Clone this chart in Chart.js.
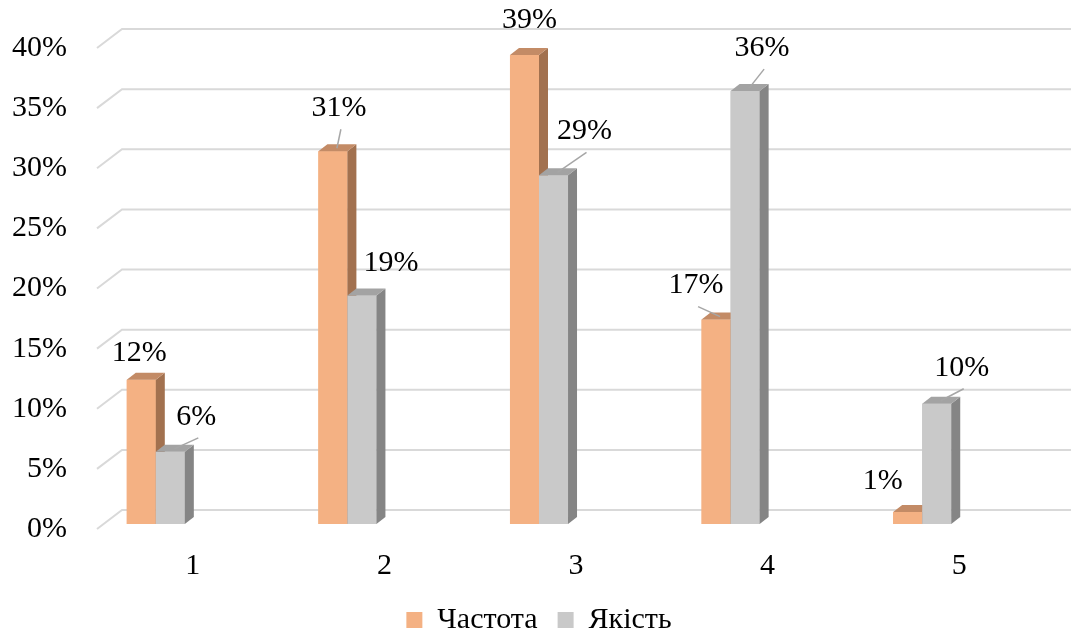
<!DOCTYPE html>
<html>
<head>
<meta charset="utf-8">
<script src="https://cdn.jsdelivr.net/npm/chart.js@4/dist/chart.umd.min.js"></script>
<style>
  html, body { margin: 0; padding: 0; background: #fff; }
  #wrap { width: 1071px; height: 632px; }
</style>
</head>
<body>
<div id="wrap"><canvas id="qualityChart" width="1071" height="632"></canvas></div>
<script>
// chart data
const categories = ['1', '2', '3', '4', '5'];
const frequency = [12, 31, 39, 17, 1];   // Частота
const quality = [6, 19, 29, 36, 10];     // Якість
const yTicks = [0, 5, 10, 15, 20, 25, 30, 35, 40];

// label placement relative to top of each bar (layout only)
const freqLabelShift = [[-2, -27], [6, -43], [5, -35], [-20, -34], [-25, -31]];
const qualLabelShift = [[26, -35], [29, -32], [31, -44], [17, -43], [25, -36]];
const freqLeader = [false, true, false, true, false];
const qualLeader = [true, false, true, true, true];

const FONT = "'Liberation Serif', 'Times New Roman', serif";
const DEPTH_X = 9, DEPTH_Y = 7;

const faceColors = [
    { front: '#F4B183', side: '#A2714F', top: '#C38B66' },
    { front: '#C9C9C9', side: '#858585', top: '#A3A3A3' }
];

// back wall grid lines + y labels, drawn like an Excel 3D column chart
const wallPlugin = {
    id: 'wall',
    beforeDatasetsDraw(chart) {
        const ctx = chart.ctx;
        const y = chart.scales.y;
        const x0 = 97, skew = 25;
        ctx.save();
        ctx.strokeStyle = '#D9D9D9';
        ctx.lineWidth = 2;
        yTicks.forEach(function(v) {
            const py = y.getPixelForValue(v);
            ctx.beginPath();
            ctx.moveTo(x0, py + 5);
            ctx.lineTo(x0 + skew, py - 14);
            ctx.lineTo(chart.width, py - 14);
            ctx.stroke();
        });
        ctx.fillStyle = '#000';
        ctx.font = '30px ' + FONT;
        ctx.textAlign = 'right';
        ctx.textBaseline = 'middle';
        yTicks.forEach(function(v) {
            ctx.fillText(v + '%', 67, y.getPixelForValue(v) + 5);
        });
        ctx.restore();
    }
};

// front, side and top faces for every bar (left series first), then value labels
const boxPlugin = {
    id: 'box3d',
    afterDatasetsDraw(chart) {
        const ctx = chart.ctx;
        ctx.save();
        [0, 1].forEach(function(di) {
            const colors = faceColors[di];
            chart.getDatasetMeta(di).data.forEach(function(bar) {
                const p = bar.getProps(['x', 'y', 'base', 'width'], true);
                const l = p.x - p.width / 2, r = p.x + p.width / 2;
                ctx.fillStyle = colors.front;
                ctx.fillRect(l, p.y, p.width, p.base - p.y);
                ctx.fillStyle = colors.side;
                ctx.beginPath();
                ctx.moveTo(r, p.y);
                ctx.lineTo(r + DEPTH_X, p.y - DEPTH_Y);
                ctx.lineTo(r + DEPTH_X, p.base - DEPTH_Y);
                ctx.lineTo(r, p.base);
                ctx.closePath();
                ctx.fill();
                ctx.fillStyle = colors.top;
                ctx.beginPath();
                ctx.moveTo(l, p.y);
                ctx.lineTo(r, p.y);
                ctx.lineTo(r + DEPTH_X, p.y - DEPTH_Y);
                ctx.lineTo(l + DEPTH_X, p.y - DEPTH_Y);
                ctx.closePath();
                ctx.fill();
            });
        });

        ctx.font = '30px ' + FONT;
        ctx.fillStyle = '#000';
        ctx.textAlign = 'center';
        ctx.textBaseline = 'middle';
        const sets = [
            { shift: freqLabelShift, leader: freqLeader },
            { shift: qualLabelShift, leader: qualLeader }
        ];
        sets.forEach(function(s, di) {
            const meta = chart.getDatasetMeta(di);
            const values = chart.data.datasets[di].data;
            meta.data.forEach(function(bar, i) {
                const lx = bar.x + s.shift[i][0];
                const ly = bar.y + s.shift[i][1];
                if (s.leader[i]) {
                    ctx.strokeStyle = '#A6A6A6';
                    ctx.lineWidth = 1.5;
                    ctx.beginPath();
                    ctx.moveTo(bar.x + 4, bar.y - 3);
                    ctx.lineTo(lx + 2, ly + 21);
                    ctx.stroke();
                }
                ctx.fillText(values[i] + '%', lx, ly);
            });
        });
        ctx.restore();
    }
};

new Chart(document.getElementById('qualityChart'), {
    type: 'bar',
    data: {
        labels: categories,
        datasets: [{
            label: 'Частота',
            data: frequency,
            backgroundColor: faceColors[0].front
        }, {
            label: 'Якість',
            data: quality,
            backgroundColor: faceColors[1].front
        }]
    },
    options: {
        responsive: false,
        animation: false,
        categoryPercentage: 0.303,
        barPercentage: 1,
        layout: { padding: { left: 60, right: 53, top: 43, bottom: -13 } },
        scales: {
            x: {
                grid: { display: false },
                border: { display: false },
                ticks: {
                    color: '#000',
                    font: { family: FONT, size: 30 },
                    padding: 16,
                    labelOffset: 37
                }
            },
            y: {
                display: false,
                min: 0,
                max: 40
            }
        },
        plugins: {
            legend: {
                position: 'bottom',
                labels: {
                    color: '#000',
                    font: { family: FONT, size: 30 },
                    boxWidth: 16,
                    boxHeight: 16,
                    padding: 5,
                    // wider gap after the first entry, as in the original legend
                    generateLabels: function(chart) {
                        const items = Chart.defaults.plugins.legend.labels.generateLabels(chart);
                        items[0].text += '\u2002';
                        return items;
                    }
                }
            },
            tooltip: { enabled: false }
        }
    },
    plugins: [wallPlugin, boxPlugin]
});
</script>
</body>
</html>
